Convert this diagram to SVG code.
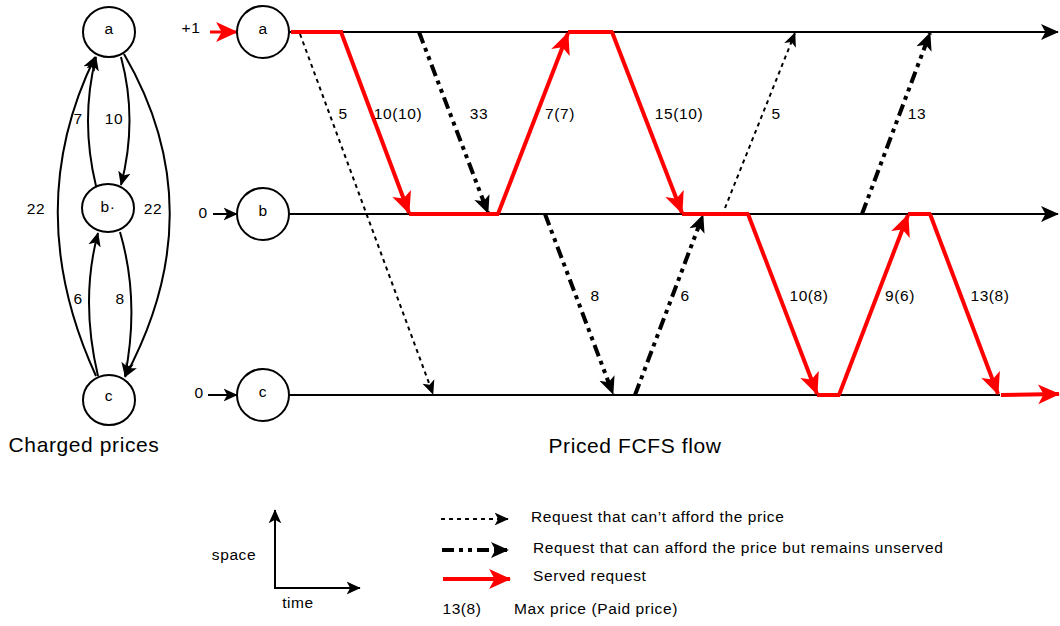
<svg xmlns="http://www.w3.org/2000/svg" width="1060" height="626" viewBox="0 0 1060 626">
<style>
text{font-family:"Liberation Sans",Arial,sans-serif;font-size:15.5px;letter-spacing:0.6px;fill:#000}
.t{font-size:21px;letter-spacing:0.6px}
.node{fill:#fff;stroke:#000;stroke-width:2}
.line{fill:none;stroke:#000;stroke-width:2}
.red{fill:none;stroke:#f00;stroke-width:4}
.dd{fill:none;stroke:#000;stroke-width:4;stroke-dasharray:12 5 4 5 4 5}
.dot{fill:none;stroke:#000;stroke-width:2;stroke-dasharray:4 4}
.cur{fill:none;stroke:#000;stroke-width:2}
</style>
<defs>
<marker id="mr" markerUnits="userSpaceOnUse" markerWidth="22" markerHeight="22" viewBox="0 0 20 20" refX="19" refY="10" orient="auto"><path d="M0,1 L20,10 L0,19 L5,10 z" fill="#f00"/></marker>
<marker id="mb" markerUnits="userSpaceOnUse" markerWidth="18" markerHeight="18" viewBox="0 0 20 20" refX="19" refY="10" orient="auto"><path d="M0,1 L20,10 L0,19 L5,10 z" fill="#000"/></marker>
<marker id="ms" markerUnits="userSpaceOnUse" markerWidth="14" markerHeight="14" viewBox="0 0 20 20" refX="19" refY="10" orient="auto"><path d="M0,1 L20,10 L0,19 L5,10 z" fill="#000"/></marker>
</defs>

<!-- left graph connectors -->
<g id="left-connectors">
<path class="cur" d="M96,186 Q80,120 96,57" marker-end="url(#ms)"/>
<path class="cur" d="M121,57 Q138,120 121,185" marker-end="url(#ms)"/>
<path class="cur" d="M96,376 Q20,210 95,57" marker-end="url(#ms)"/>
<path class="cur" d="M124,54 Q215,210 125,377" marker-end="url(#ms)"/>
<path class="cur" d="M98,376 Q80,300 98,233" marker-end="url(#ms)"/>
<path class="cur" d="M120,232 Q140,300 125,376" marker-end="url(#ms)"/>
<text x="78" y="124" text-anchor="middle">7</text>
<text x="114" y="124" text-anchor="middle">10</text>
<text x="36" y="214" text-anchor="middle">22</text>
<text x="153" y="214" text-anchor="middle">22</text>
<text x="78" y="304" text-anchor="middle">6</text>
<text x="120" y="304" text-anchor="middle">8</text>
</g>
<g id="ga"><ellipse class="node" cx="109" cy="32" rx="26" ry="25"/><text x="109" y="34" text-anchor="middle">a</text></g>
<g id="gb"><ellipse class="node" cx="108" cy="208" rx="26" ry="24"/><text x="108" y="212" text-anchor="middle">b·</text></g>
<g id="gc"><ellipse class="node" cx="109" cy="400" rx="26" ry="25"/><text x="109" y="401" text-anchor="middle">c</text></g>
<text class="t" x="84" y="452" text-anchor="middle">Charged prices</text>

<!-- timelines -->
<g id="timelines">
<line class="line" x1="289" y1="32" x2="1058" y2="32" marker-end="url(#mb)"/>
<line class="line" x1="289" y1="214" x2="1058" y2="214" marker-end="url(#mb)"/>
<line class="line" x1="289" y1="395" x2="1000" y2="395"/>
</g>

<!-- inputs -->
<g id="inputs">
<line x1="210" y1="32" x2="237" y2="32" stroke="#f00" stroke-width="3" marker-end="url(#mr)"/>
<text x="191" y="33" text-anchor="middle">+1</text>
<line x1="213" y1="214" x2="237" y2="214" stroke="#000" stroke-width="2" marker-end="url(#ms)"/>
<text x="203" y="218" text-anchor="middle">0</text>
<line x1="208" y1="395" x2="237" y2="395" stroke="#000" stroke-width="2" marker-end="url(#ms)"/>
<text x="199" y="398" text-anchor="middle">0</text>
</g>

<g id="na"><circle class="node" cx="263" cy="32" r="26"/><text x="263" y="34" text-anchor="middle">a</text></g>
<g id="nb"><circle class="node" cx="263" cy="214" r="26"/><text x="263" y="216" text-anchor="middle">b</text></g>
<g id="nc"><circle class="node" cx="263" cy="395" r="26"/><text x="263" y="397" text-anchor="middle">c</text></g>

<!-- connectors -->
<g id="connectors">
<line class="dot" x1="300" y1="34" x2="433" y2="394" marker-end="url(#ms)"/>
<line class="dd" x1="419" y1="32" x2="488" y2="213" marker-end="url(#mb)"/>
<line class="dot" x1="725" y1="208" x2="795" y2="33" marker-end="url(#ms)"/>
<line class="dd" x1="862" y1="214" x2="930" y2="33" marker-end="url(#mb)"/>
<line class="dd" x1="545" y1="214" x2="613" y2="394" marker-end="url(#mb)"/>
<line class="dd" x1="635" y1="395" x2="703" y2="215" marker-end="url(#mb)"/>

<line class="red" x1="291" y1="32" x2="343" y2="32"/>
<line class="red" x1="341" y1="32" x2="409" y2="213" marker-end="url(#mr)"/>
<line class="red" x1="409" y1="214" x2="499" y2="214"/>
<line class="red" x1="498" y1="214" x2="568" y2="33" marker-end="url(#mr)"/>
<line class="red" x1="568" y1="32" x2="613" y2="32"/>
<line class="red" x1="612" y1="32" x2="682" y2="213" marker-end="url(#mr)"/>
<line class="red" x1="682" y1="214" x2="749" y2="214"/>
<line class="red" x1="748" y1="214" x2="817" y2="394" marker-end="url(#mr)"/>
<line class="red" x1="817" y1="395" x2="840" y2="395"/>
<line class="red" x1="839" y1="395" x2="908" y2="215" marker-end="url(#mr)"/>
<line class="red" x1="908" y1="214" x2="931" y2="214"/>
<line class="red" x1="930" y1="214" x2="998" y2="394" marker-end="url(#mr)"/>
<line class="red" x1="1001" y1="395" x2="1059" y2="394" marker-end="url(#mr)"/>

<text x="343" y="119" text-anchor="middle">5</text>
<text x="398" y="119" text-anchor="middle">10(10)</text>
<text x="479" y="119" text-anchor="middle">33</text>
<text x="560" y="119" text-anchor="middle">7(7)</text>
<text x="679" y="119" text-anchor="middle">15(10)</text>
<text x="776" y="119" text-anchor="middle">5</text>
<text x="917" y="119" text-anchor="middle">13</text>
<text x="595" y="301" text-anchor="middle">8</text>
<text x="685" y="301" text-anchor="middle">6</text>
<text x="809" y="301" text-anchor="middle">10(8)</text>
<text x="900" y="301" text-anchor="middle">9(6)</text>
<text x="990" y="301" text-anchor="middle">13(8)</text>
</g>
<text class="t" x="635" y="453" text-anchor="middle">Priced FCFS flow</text>

<!-- legend -->
<g id="legend">
<polyline class="line" points="275,510 275,588 360,588" marker-end="url(#ms)"/>
<line class="line" x1="275" y1="588" x2="275" y2="510" marker-end="url(#ms)"/>
<text x="234" y="560" text-anchor="middle">space</text>
<text x="298" y="608" text-anchor="middle">time</text>
<line class="dot" x1="441" y1="519" x2="508" y2="519" marker-end="url(#ms)"/>
<text x="531" y="522">Request that can’t afford the price</text>
<line class="dd" x1="442" y1="550" x2="508" y2="550" marker-end="url(#mb)"/>
<text x="533" y="553">Request that can afford the price but remains unserved</text>
<line class="red" x1="443" y1="579" x2="510" y2="579" marker-end="url(#mr)"/>
<text x="533" y="581">Served request</text>
<text x="462" y="614" text-anchor="middle">13(8)</text>
<text x="514" y="614">Max price (Paid price)</text>
</g>
</svg>
